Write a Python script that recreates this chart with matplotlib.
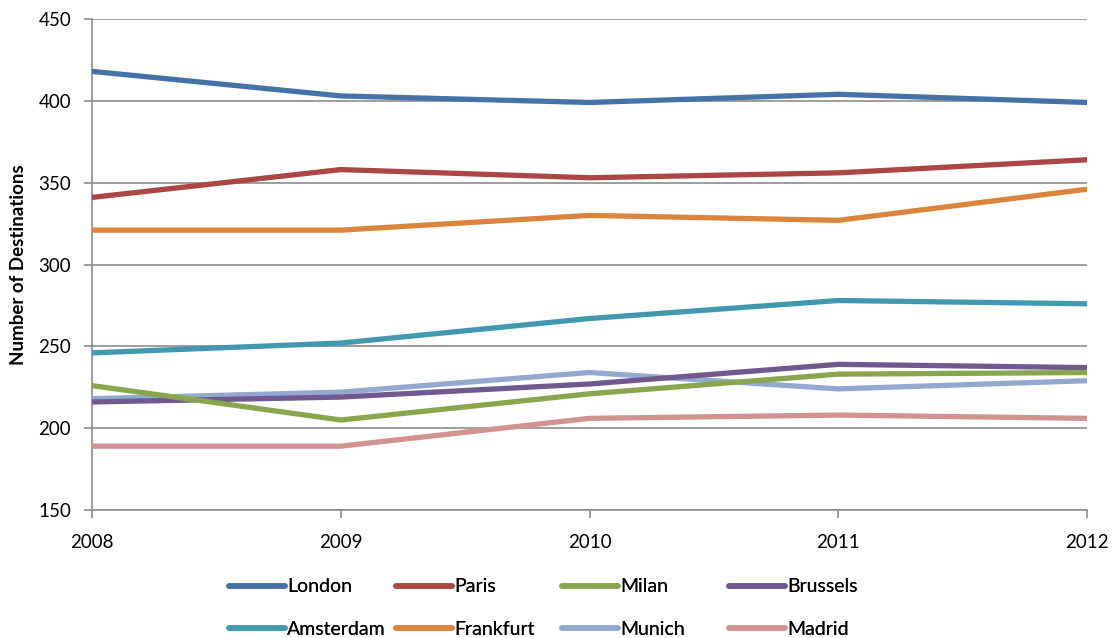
import matplotlib.pyplot as plt

plt.rcParams['font.family'] = ['Lato', 'DejaVu Sans']

years = [2008, 2009, 2010, 2011, 2012]
cities = ['London', 'Paris', 'Milan', 'Brussels',
          'Amsterdam', 'Frankfurt', 'Munich', 'Madrid']

london = [418, 403, 399, 404, 399]
paris = [341, 358, 353, 356, 364]
milan = [226, 205, 221, 233, 234]
brussels = [216, 219, 227, 239, 237]
amsterdam = [246, 252, 267, 278, 276]
frankfurt = [321, 321, 330, 327, 346]
munich = [218, 222, 234, 224, 229]
madrid = [189, 189, 206, 208, 206]

colors = ['#4572A7', '#AA4643', '#89A54E', '#71588F',
          '#4198AF', '#DB843D', '#93A9CF', '#D19392']
series = [london, paris, milan, brussels, amsterdam, frankfurt, munich, madrid]

fig = plt.figure(figsize=(11.13, 6.38), dpi=100)
ax = fig.add_axes([92 / 1113, 1 - 510 / 638, (1087 - 92) / 1113, (510 - 19) / 638])

# draw in reverse so London ends up on top
order = [7, 6, 4, 5, 3, 2, 1, 0]
handles = {}
for i in order:
    ln, = ax.plot(years, series[i], color=colors[i], lw=3.8,
                  solid_capstyle='round', label=cities[i], zorder=3 + (7 - i) * 0.1)
    handles[i] = ln

ax.set_xlim(2008, 2012)
ax.set_ylim(150, 450)
ax.set_xticks(years)
ax.set_yticks(range(150, 451, 50))
ax.grid(axis='y', color='#8c8c8c', lw=1.2)
ax.set_axisbelow(True)
for s in ['top', 'right']:
    ax.spines[s].set_visible(False)
for s in ['left', 'bottom']:
    ax.spines[s].set_color('#8c8c8c')
    ax.spines[s].set_linewidth(1.2)
ax.tick_params(colors='#8c8c8c', labelcolor='black', labelsize=13.5,
               length=6, width=1.2)
ax.tick_params(axis='y', pad=9)
ax.tick_params(axis='x', pad=11)
ax.set_ylabel('Number of Destinations', fontsize=13.5, fontweight='bold', labelpad=8)

# one legend per column so the columns are evenly spaced
col_x = [229, 396, 562, 729]
for c, x in enumerate(col_x):
    idx = [c, c + 4]
    leg = fig.legend([handles[i] for i in idx], [cities[i] for i in idx],
                     loc='center left', bbox_to_anchor=(x / 1113, 1 - 608 / 638),
                     frameon=False, fontsize=14, handlelength=2.9,
                     handletextpad=0.1, labelspacing=1.3,
                     borderpad=0, borderaxespad=0)
    for l in leg.get_lines():
        l.set_linewidth(4)
    fig.add_artist(leg)

plt.savefig('out.png', dpi=100)
